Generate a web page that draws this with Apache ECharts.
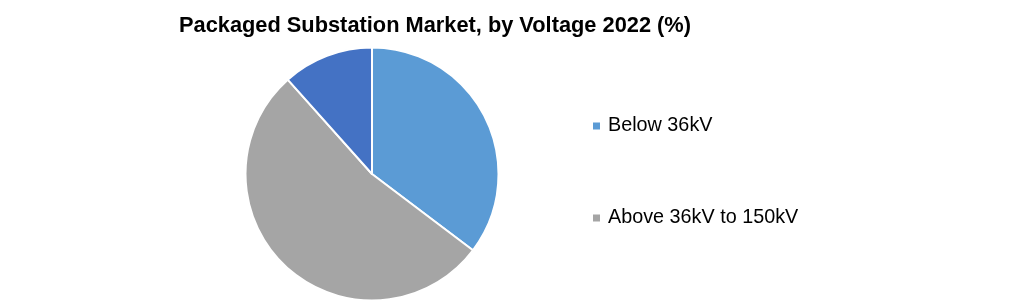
<!DOCTYPE html>
<html><head><meta charset="utf-8">
<script src="https://cdn.jsdelivr.net/npm/echarts@6/dist/echarts.min.js"></script>
<style>html,body{margin:0;padding:0;background:#fff}#c{width:1020px;height:303px}</style>
</head><body><div id="c"></div>
<script>
const categories = ['Below 36kV', 'Above 36kV to 150kV', 'Above 150kV'];
const values = [35.3, 53.1, 11.6];
const legendItems = ['Below 36kV', 'Above 36kV to 150kV'];
const colors = ['#5B9BD5', '#A5A5A5', '#4472C4'];

const chart = echarts.init(document.getElementById('c'), null, {renderer: 'canvas'});
chart.setOption({
  animation: false,
  backgroundColor: '#fff',
  title: {
    text: 'Packaged Substation Market, by Voltage 2022 (%)',
    left: 174, top: 10,
    textStyle: {fontFamily: 'Liberation Sans', fontWeight: 'bold', fontSize: 21.8, color: '#000'}
  },
  legend: {
    data: legendItems,
    orient: 'vertical',
    left: 591, top: 116,
    padding: 0,
    itemWidth: 9, itemHeight: 9,
    itemGap: 72,
    icon: 'rect',
    textStyle: {fontFamily: 'Liberation Sans', fontSize: 19.8, color: '#000', padding: [0,0,0,2]}
  },
  series: [{
    type: 'pie',
    center: [372, 174],
    radius: [0, 126.5],
    startAngle: 90,
    clockwise: true,
    label: {show: false},
    labelLine: {show: false},
    itemStyle: {borderColor: '#fff', borderWidth: 2},
    data: categories.map((n, i) => ({name: n, value: values[i], itemStyle: {color: colors[i]}}))
  }]
});
</script></body></html>
